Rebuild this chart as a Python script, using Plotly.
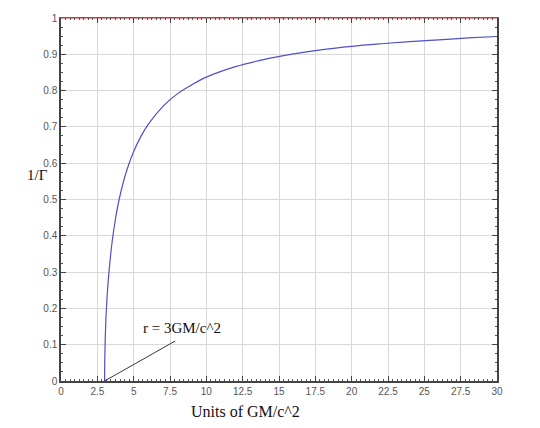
import plotly.graph_objects as go

# Curve
r_vals = [3.0, 3.01, 3.05, 3.1, 3.2, 3.3, 3.5, 3.75, 4.0, 4.5, 5.0, 5.5, 6.0, 7.0, 8.0, 9.0,
          10.0, 12.0, 14.0, 16.0, 18.0, 20.0, 22.0, 24.0, 26.0, 28.0, 30.0]
inv_gamma = [0.0, 0.055, 0.124, 0.18, 0.25, 0.30, 0.378, 0.447, 0.50, 0.577, 0.632, 0.674, 0.707,
             0.756, 0.791, 0.816, 0.837, 0.866, 0.886, 0.901, 0.913, 0.922, 0.929, 0.935,
             0.940, 0.945, 0.949]
limit_x = [0, 30]
limit_y = [1, 1]
pointer_x = [3.0, 7.85]
pointer_y = [0.0, 0.11]
label_text = "r = 3GM/c^2"
label_pos = (8.3, 0.145)
x_ticks = [0, 2.5, 5, 7.5, 10, 12.5, 15, 17.5, 20, 22.5, 25, 27.5, 30]
y_ticks = [0, 0.1, 0.2, 0.3, 0.4, 0.5, 0.6, 0.7, 0.8, 0.9, 1]

fig = go.Figure()
fig.add_trace(go.Scatter(x=r_vals, y=inv_gamma, mode="lines",
                         line=dict(color="#5050c8", width=1.2, shape="spline"), hoverinfo="skip"))
fig.add_trace(go.Scatter(x=limit_x, y=limit_y, mode="lines", xaxis="x2",
                         line=dict(color="#d83040", width=1), hoverinfo="skip", cliponaxis=False))
fig.add_trace(go.Scatter(x=pointer_x, y=pointer_y, mode="lines",
                         line=dict(color="#222222", width=0.9), hoverinfo="skip"))

fig.add_annotation(x=label_pos[0], y=label_pos[1], text=label_text, showarrow=False,
                   font=dict(family="Liberation Serif, Times New Roman, serif", size=15, color="#111"))
fig.add_annotation(xref="paper", yref="paper", x=-0.083, y=0.567, text="1/Γ", showarrow=False,
                   font=dict(family="Liberation Serif, Times New Roman, serif", size=15, color="#111"))
fig.add_annotation(xref="paper", yref="paper", x=0.424, y=-0.085, yanchor="middle",
                   text="Units of GM/c^2", showarrow=False,
                   font=dict(family="Liberation Serif, Times New Roman, serif", size=16, color="#111"))

tick_font = dict(family="Liberation Sans, Arial, sans-serif", size=10, color="#555")
x_minor = dict(dtick=0.3125, ticks="inside", ticklen=2, tickcolor="#555", showgrid=False)

fig.update_layout(
    width=540, height=428,
    margin=dict(l=61, r=43, t=18, b=47),
    paper_bgcolor="white", plot_bgcolor="white",
    showlegend=False,
    xaxis=dict(range=[0, 30], tickvals=x_ticks, ticktext=[f"{v:g}" for v in x_ticks],
               showgrid=True, gridcolor="#d9d9d9", showline=True, linecolor="#444", linewidth=1.5,
               mirror=False, ticks="inside", ticklen=5, tickcolor="#444", tickfont=tick_font,
               zeroline=False, minor=x_minor),
    xaxis2=dict(range=[0, 30], overlaying="x", side="top", tickvals=x_ticks, showticklabels=False,
                showgrid=False, showline=True, linecolor="#d83040", linewidth=1,
                ticks="inside", ticklen=5, tickcolor="#444", zeroline=False, minor=x_minor),
    yaxis=dict(range=[0, 1], tickvals=y_ticks, ticktext=[f"{v:g}" for v in y_ticks],
               showgrid=True, gridcolor="#d9d9d9", showline=True, linecolor="#444", linewidth=1.5,
               mirror="ticks", ticks="inside", ticklen=5, tickcolor="#444", tickfont=tick_font,
               zeroline=False,
               minor=dict(dtick=0.025, ticks="inside", ticklen=2, tickcolor="#555", showgrid=False)),
)
fig.write_html("out.html", config={"displayModeBar": False})

# remove default browser body margin so the figure sits at the window's corner
with open("out.html", "r", encoding="utf-8") as f:
    html = f.read()
html = html.replace("<head>", "<head><style>html,body{margin:0;padding:0;overflow:hidden;}</style>", 1)
with open("out.html", "w", encoding="utf-8") as f:
    f.write(html)
